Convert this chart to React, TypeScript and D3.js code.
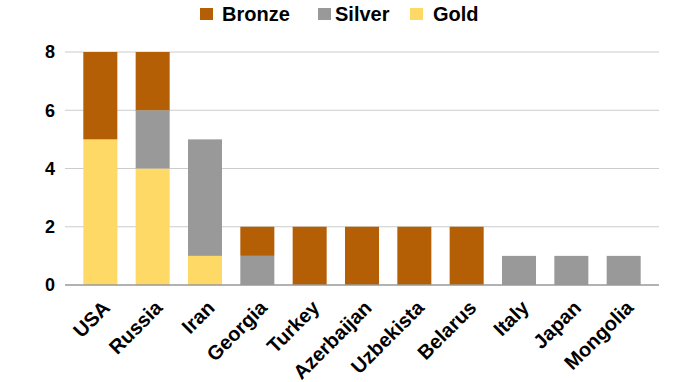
import React from "react";
import * as d3 from "d3";

const countries = ["USA", "Russia", "Iran", "Georgia", "Turkey", "Azerbaijan", "Uzbekista", "Belarus", "Italy", "Japan", "Mongolia"];
const gold = [5, 4, 1, 0, 0, 0, 0, 0, 0, 0, 0];
const silver = [0, 2, 4, 1, 0, 0, 0, 0, 1, 1, 1];
const bronze = [3, 2, 0, 1, 2, 2, 2, 2, 0, 0, 0];
const yTicks = [0, 2, 4, 6, 8];

const seriesNames = ["Gold", "Silver", "Bronze"];
const colors: Record<string, string> = { Gold: "#ffd966", Silver: "#999999", Bronze: "#b45f06" };
const legendOrder = ["Bronze", "Silver", "Gold"];

export default function App() {
  const W = 680, H = 382;
  const left = 65, right = 659, top = 52, bottom = 285;
  const x = d3.scaleBand<string>().domain(countries).range([left, right]).paddingInner(0.35).paddingOuter(0.35);
  const y = d3.scaleLinear().domain([0, 8]).range([bottom, top]);
  const rows = countries.map((c, i) => ({ country: c, Gold: gold[i], Silver: silver[i], Bronze: bronze[i] }));
  const stacked = d3.stack<any>().keys(seriesNames)(rows);
  const font = "'Liberation Sans', Arial, sans-serif";
  const legendX = [200, 318, 410];
  const legendTextX = [222, 335, 433];

  return (
    <svg width={W} height={H} style={{ position: "absolute", left: 0, top: 0, background: "#fff" }} fontFamily={font}>
      {yTicks.map((t) => (
        <g key={t}>
          {t !== 0 && <line x1={left} x2={right} y1={y(t)} y2={y(t)} stroke="#cccccc" strokeWidth={1} />}
          <text x={55} y={y(t)} dy="0.36em" textAnchor="end" fontSize={18} fontWeight="bold" fill="#000">{t}</text>
        </g>
      ))}
      {stacked.map((s) => (
        <g key={s.key} fill={colors[s.key]}>
          {s.map((d, i) => (
            d[1] - d[0] > 0 ? (
              <rect key={i} x={x(countries[i])} width={x.bandwidth()} y={y(d[1])} height={y(d[0]) - y(d[1])} />
            ) : null
          ))}
        </g>
      ))}
      <line x1={left} x2={right} y1={y(0)} y2={y(0)} stroke="#999" strokeWidth={1.5} />
      {countries.map((c) => {
        const cx = (x(c) as number) + x.bandwidth() / 2;
        return (
          <text key={c} transform={`translate(${cx + 11},${bottom + 24}) rotate(-45)`} textAnchor="end" fontSize={20} fontWeight="bold" fill="#000">{c}</text>
        );
      })}
      {legendOrder.map((k, i) => (
        <g key={k}>
          <rect x={legendX[i]} y={8} width={13} height={12} fill={colors[k]} />
          <text x={legendTextX[i]} y={21} fontSize={20} fontWeight="bold" fill="#000">{k}</text>
        </g>
      ))}
    </svg>
  );
}
